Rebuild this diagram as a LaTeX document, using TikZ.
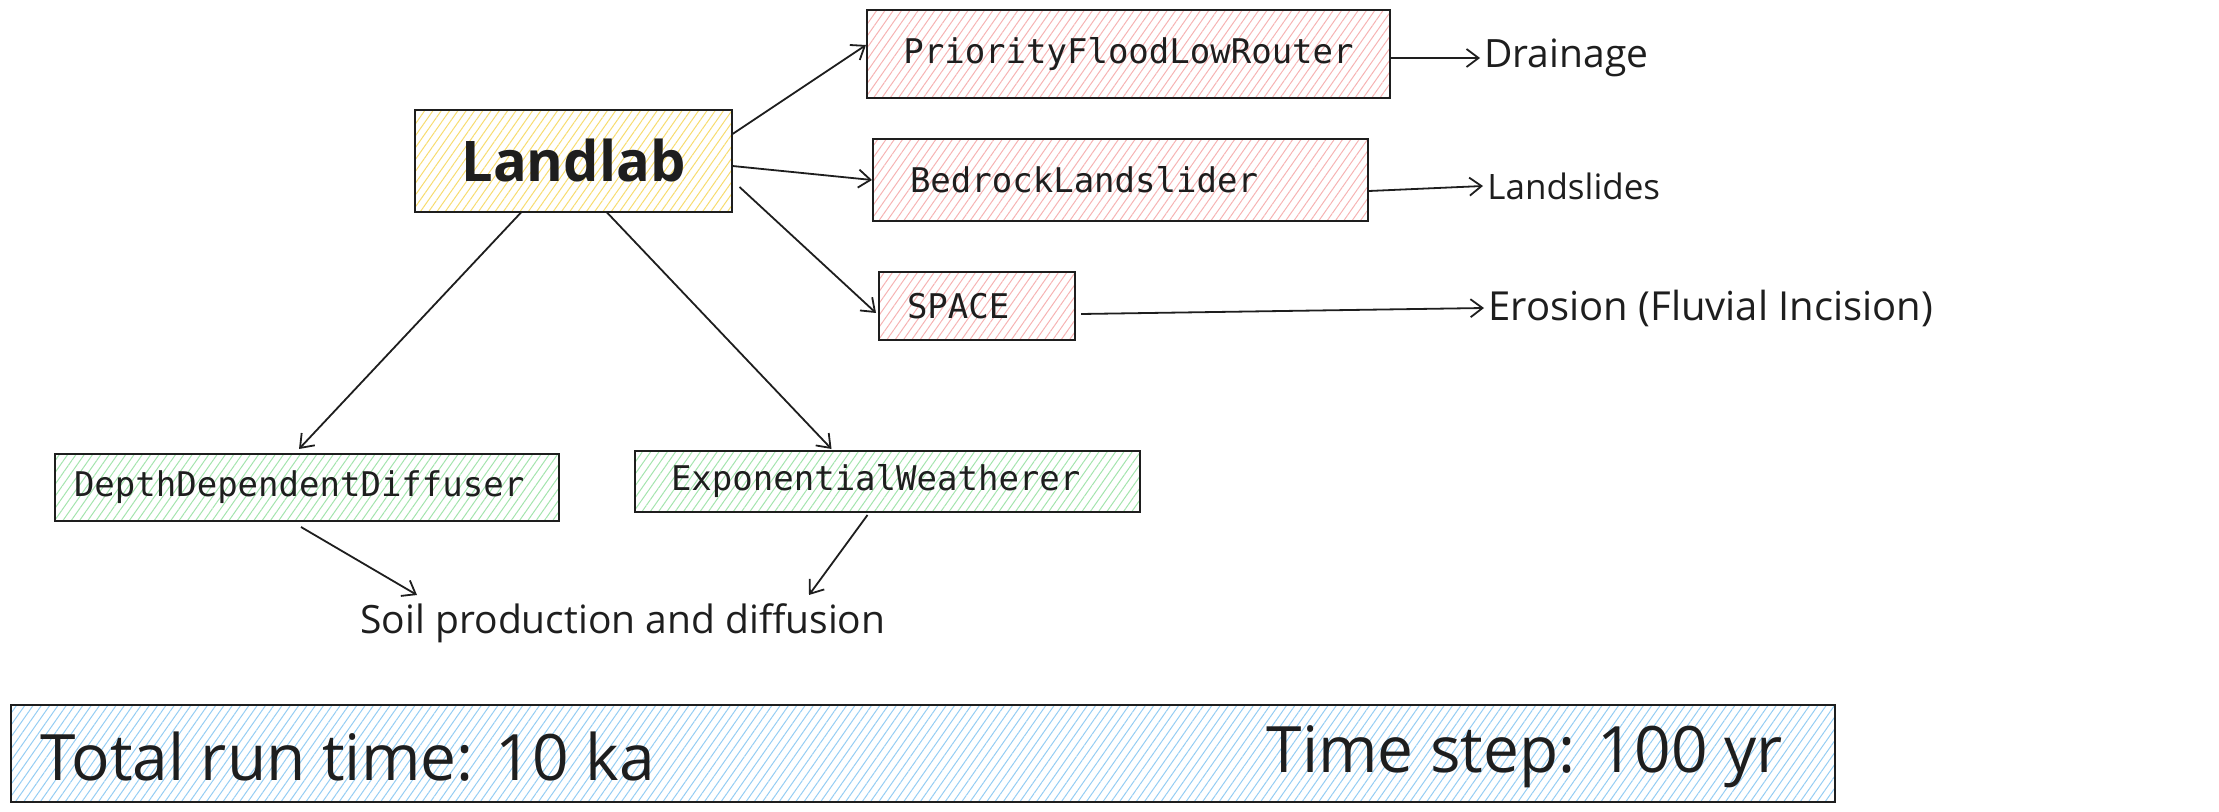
\documentclass[tikz,border=0pt]{standalone}
\usepackage{fontspec}
\newfontfamily\handfont{Open Sans}
\newfontfamily\codefont{DejaVu Sans Mono}
\usetikzlibrary{patterns.meta,arrows.meta,calc}
\definecolor{yelh}{HTML}{F7DC6F}
\definecolor{pinkh}{HTML}{F6B3B3}
\definecolor{greenh}{HTML}{A3E4AD}
\definecolor{blueh}{HTML}{95CDF3}
\definecolor{ink}{HTML}{1E1E1E}
\tikzset{
  hatch/.style={pattern={Lines[angle=55,distance=3.4pt,line width=0.5pt]},pattern color=#1},
  box/.style={draw=ink,line width=1pt,rectangle,inner ysep=0pt,anchor=center},
  codebox/.style={box,font=\codefont\fontsize{17}{20}\selectfont,text=ink},
  lbl/.style={font=\handfont\fontsize{#1}{22}\selectfont,text=ink,inner sep=2pt},
  lbl/.default=19.5,
  big/.style={font=\handfont\fontsize{32}{36}\selectfont,text=ink,inner sep=0pt},
  arr/.style={draw=ink,line width=0.9pt,-{Straight Barb[length=6pt,width=9pt,line width=0.9pt]}},
}
\begin{document}
\begin{tikzpicture}[x=0.5pt,y=-0.5pt]
\useasboundingbox (0,0) rectangle (2219,812);
% boxes
\node[box,line width=1.4pt,hatch=yelh,minimum width=158.5pt,minimum height=51pt,
      font=\handfont\fontsize{28}{32}\selectfont\bfseries,text=ink] (landlab) at (573.5,161) {Landlab};
\node[codebox,hatch=pinkh,minimum width=261.5pt,minimum height=44pt] (pflr) at (1128.5,54) {PriorityFloodLowRouter};
\node[codebox,hatch=pinkh,minimum height=41pt,inner xsep=18.5pt,text width=210.5pt,align=left] (bls) at (1120.5,180) {BedrockLandslider};
\node[codebox,hatch=pinkh,minimum height=34pt,inner xsep=14pt,text width=70pt,align=left] (space) at (977,306) {SPACE};
\node[codebox,hatch=greenh,minimum height=33.5pt,inner xsep=9.5pt,text width=233pt,align=left] (ddd) at (307,487.5) {DepthDependentDiffuser};
\node[codebox,hatch=greenh,minimum height=30.5pt,inner xsep=18pt,text width=216.5pt,align=left] (ew) at (887.5,481.5) {ExponentialWeatherer};
\node[box,line width=1.2pt,hatch=blueh,minimum width=912pt,minimum height=48.5pt] (bottom) at (923,753.5) {};
% labels
\node[lbl=19.5,anchor=west] (drain) at (1480,58) {Drainage};
\node[lbl=17.5,anchor=west] (slides) at (1483,186) {Landslides};
\node[lbl=20,anchor=west] (eros) at (1484,308) {Erosion (Fluvial Incision)};
\node[lbl=19.5] (soil) at (623,623) {Soil production and diffusion};
\node[big,anchor=west] (trt) at (40,757) {Total run time: 10 ka};
\node[big,anchor=east] (tst) at (1783,757) {Time step: 100 yr};
% connectors
\draw[arr] ($(landlab.east)+(0,-27)$) -- ($(pflr.west)+(0,-9)$);
\draw[arr] ($(landlab.east)+(0,5)$) -- (bls.west);
\draw[arr] ($(landlab.east)+(7,26)$) -- ($(space.west)+(-2,7)$);
\draw[arr] ($(landlab.south)+(-52.5,0)$) -- ($(ddd.north)+(-8,-4)$);
\draw[arr] ($(landlab.south)+(33.5,0)$) -- ($(ew.north)+(-56,-1)$);
\draw[arr] ($(pflr.east)+(0,4)$) -- (drain.west);
\draw[arr] ($(bls.east)+(0,11)$) -- (slides.west);
\draw[arr] ($(space.east)+(5,8)$) -- (eros.west);
\draw[arr] ($(ddd.south)+(-6,5)$) -- ($(soil.north)+(-206,-4)$);
\draw[arr] ($(ew.south)+(-20,2)$) -- ($(soil.north)+(186,-4)$);
\end{tikzpicture}
\end{document}
